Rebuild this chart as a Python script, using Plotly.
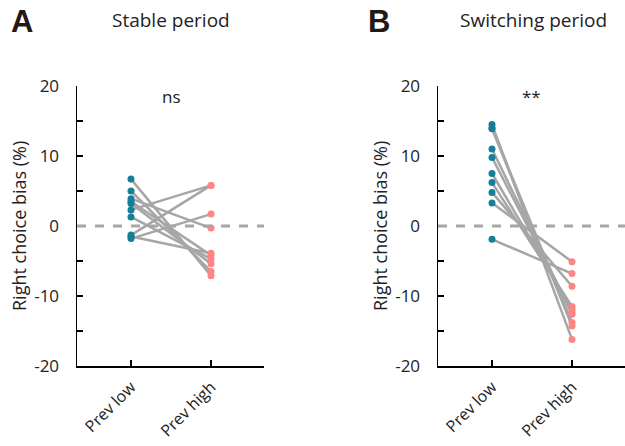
import plotly.graph_objects as go

categories = ["Prev low", "Prev high"]

# Panel A: Stable period (per-subject values, %)
stable_low = [6.7, 5.0, 3.9, 3.2, 2.3, 1.3, -1.3, -1.5, -1.8, 3.5]
stable_high = [-7.1, -6.5, -0.3, -5.4, 5.8, -4.7, 5.8, -3.9, 1.7, -4.2]

# Panel B: Switching period
switch_low = [14.5, 13.9, 14.0, 11.0, 9.8, 7.5, 6.2, 4.8, 3.3, -1.9]
switch_high = [-16.2, -14.3, -13.8, -12.6, -12.3, -11.9, -11.5, -8.6, -5.1, -6.8]

y_ticks = [-20, -10, 0, 10, 20]
y_ticktext = ["-20", "-10", "0", "10", "20"]
titles = ["Stable period", "Switching period"]
panel_letters = ["A", "B"]
sig_labels = ["ns", "**"]

FONT = "Open Sans"
LINE_C = "#A6A6A6"
LOW_C = "#167F98"
HIGH_C = "#FF8585"

fig = go.Figure()

panels = [(stable_low, stable_high, "x", "y"), (switch_low, switch_high, "x2", "y2")]
for low, high, xa, ya in panels:
    for a, b in zip(low, high):
        fig.add_trace(go.Scatter(
            x=[0, 1], y=[a, b], mode="lines",
            line=dict(color=LINE_C, width=2.5),
            xaxis=xa, yaxis=ya, showlegend=False, hoverinfo="skip"))
    fig.add_trace(go.Scatter(
        x=[0] * len(low), y=low, mode="markers",
        marker=dict(color=LOW_C, size=7),
        xaxis=xa, yaxis=ya, showlegend=False, cliponaxis=False))
    fig.add_trace(go.Scatter(
        x=[1] * len(high), y=high, mode="markers",
        marker=dict(color=HIGH_C, size=7),
        xaxis=xa, yaxis=ya, showlegend=False, cliponaxis=False))

W, H = 625, 446
ybot = (H - 366) / H
ytop = (H - 86) / H
dom_a = [77 / W, 264 / W]
dom_b = [438 / W, 1.0]

xcommon = dict(
    range=[-0.675, 1.6625], tickvals=[0, 1], ticktext=categories,
    tickangle=-45, ticks="inside", ticklen=6, tickwidth=1.5, tickcolor="black",
    showline=True, linecolor="black", linewidth=1.5, showgrid=False, zeroline=False,
    tickfont=dict(family=FONT, size=16, color="#222"), fixedrange=True,
    automargin=False, ticklabelstandoff=4,
)
ycommon = dict(
    range=[-20, 20], tickvals=y_ticks, ticktext=y_ticktext, ticks="inside", ticklen=6,
    tickwidth=1.5, tickcolor="black", showline=True, linecolor="black", linewidth=1.5,
    showgrid=False, zeroline=False, domain=[ybot, ytop],
    minor=dict(dtick=5, tick0=0, ticks="inside", ticklen=6, tickwidth=1.5, tickcolor="black"),
    tickfont=dict(family=FONT, size=17, color="#222"), ticklabelstandoff=13,
    fixedrange=True, automargin=False,
)

fig.update_layout(
    width=W, height=H, margin=dict(l=0, r=0, t=0, b=0, autoexpand=False),
    plot_bgcolor="white", paper_bgcolor="white",
    xaxis=dict(domain=dom_a, anchor="y", **xcommon),
    yaxis=dict(anchor="x", **ycommon),
    xaxis2=dict(domain=dom_b, anchor="y2", **xcommon),
    yaxis2=dict(anchor="x2", **ycommon),
)

# zero dashed lines
for xr, yr in [("x domain", "y"), ("x2 domain", "y2")]:
    fig.add_shape(type="line", xref=xr, yref=yr, x0=0, x1=1, y0=0, y1=0,
                  line=dict(color="#A6A6A6", width=3, dash="dash"))

annos = []
# panel letters
for letter, x in zip(panel_letters, [21.5, 379]):
    annos.append(dict(text="<b>" + letter + "</b>", x=x / W, y=(H - 21) / H, xref="paper",
                      yref="paper", showarrow=False,
                      font=dict(family="Liberation Sans", size=31, color="#231815"),
                      xanchor="center", yanchor="middle"))
# titles
for t, x in zip(titles, [171, 533]):
    annos.append(dict(text=t, x=x / W, y=(H - 20) / H, xref="paper", yref="paper",
                      showarrow=False, font=dict(family=FONT, size=19, color="#222"),
                      xanchor="center", yanchor="middle"))
# significance
for s, x in zip(sig_labels, [171, 531]):
    annos.append(dict(text=s, x=x / W, y=(H - 97) / H, xref="paper", yref="paper",
                      showarrow=False, font=dict(family=FONT, size=17, color="#222"),
                      xanchor="center", yanchor="middle"))
# y-axis titles
for x in [19, 380]:
    annos.append(dict(text="Right choice bias (%)", x=x / W, y=(H - 226) / H,
                      xref="paper", yref="paper", showarrow=False, textangle=-90,
                      font=dict(family=FONT, size=18, color="#222"),
                      xanchor="center", yanchor="middle"))
fig.update_layout(annotations=annos)

fig.write_html("out.html", config={"displayModeBar": False, "staticPlot": True},
               post_script="document.body.style.margin='0';document.body.style.overflow='hidden';")
